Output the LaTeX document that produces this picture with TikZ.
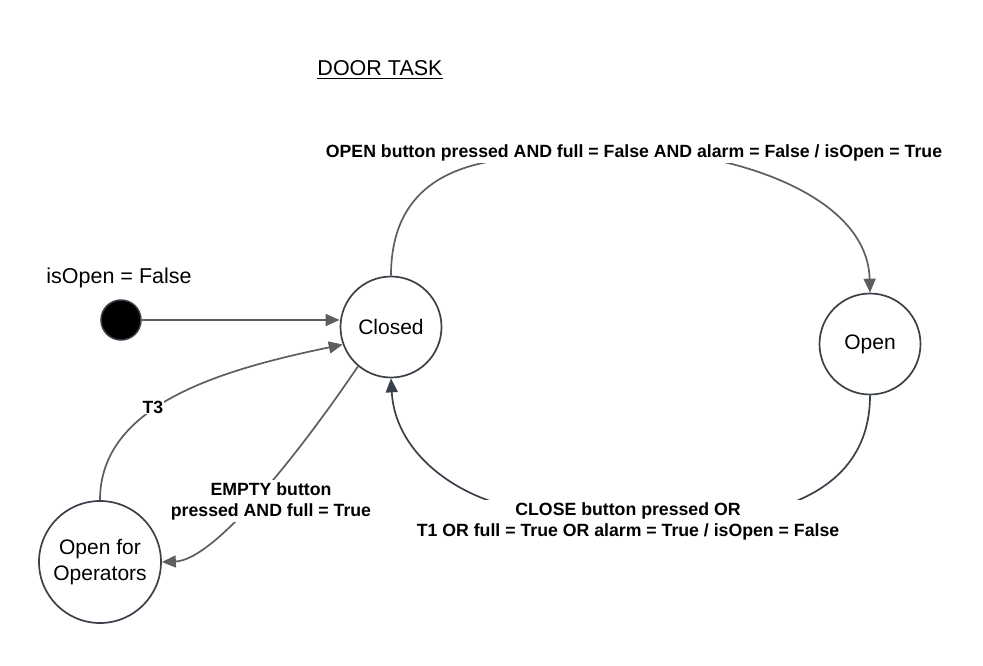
\documentclass[tikz,border=0pt]{standalone}
\usepackage{fontspec}
\setmainfont{Liberation Sans}
\usetikzlibrary{arrows.meta,calc}
\definecolor{edgegrey}{HTML}{5E5E5E}
\definecolor{rim}{HTML}{3A404A}
\begin{document}
\begin{tikzpicture}[x=1pt,y=-1pt,
  state/.style={circle,draw=rim,line width=1.7pt,minimum size=101pt,inner sep=0pt,
    font=\fontsize{21}{26}\selectfont,align=center},
  edge/.style={draw=edgegrey,line width=1.7pt,-{Triangle[length=14pt,width=12pt]}},
  darkedge/.style={edge,draw=rim},
  lbl/.style={fill=white,inner sep=2pt,font=\bfseries\fontsize{17.7}{21}\selectfont,align=center},
  plain/.style={inner sep=0pt,font=\fontsize{21.5}{26}\selectfont}]
\useasboundingbox (0,0) rectangle (983,665);

% states
\node[state] (closed) at (391,327) {Closed};
\node[state] (open) at (870,344) {Open};
\node[state,minimum size=122pt] (ops) at (100,562) {Open for\\Operators};
\node[circle,fill=black,draw=rim,line width=1.5pt,minimum size=40pt,inner sep=0pt] (init) at (121,320) {};

% texts
\node[plain,anchor=base] (title) at (380,75) {DOOR TASK};
\draw[line width=1.4pt] ($(title.base west)+(0,3.5)$) -- ($(title.base east)+(0,3.5)$);
\node[plain,anchor=base] (initlbl) at (119,283) {isOpen = False};

% connectors
\draw[edge] (init.east) -- (init -| closed.west);
\draw[edge] (closed.north) .. controls (391,210) and (425,170) .. (500,160) -- (715,160)
  .. controls (790,176) and (868,215) .. (open.north);
\draw[darkedge] (open.south) .. controls (870,450) and (840,487) .. (783,506) -- (507,506)
  .. controls (450,492) and (395,450) .. (closed.south);
\draw[edge] (closed.230) .. controls (300,452) and (215,560) .. (ops.east);
\draw[edge] (ops.north) .. controls (100,405) and (220,370) .. (closed.200);

% labels
\node[lbl] (l1) at (634,153) {OPEN button pressed AND full = False AND alarm = False / isOpen = True};
\node[lbl] (l2) at (628,521) {CLOSE button pressed OR\\T1 OR full = True OR alarm = True / isOpen = False};
\node[lbl] (l3) at (271,501) {EMPTY button\\pressed AND full = True};
\node[lbl,inner sep=1pt] (l4) at (153,407) {T3};
\end{tikzpicture}
\end{document}
